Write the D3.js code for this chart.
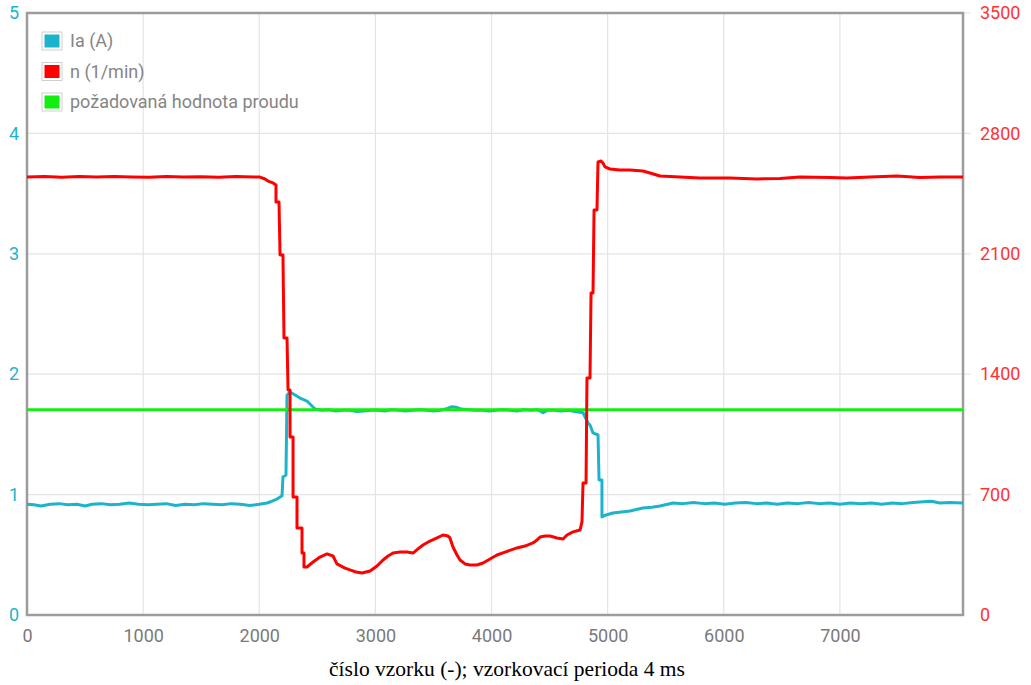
<!DOCTYPE html>
<html>
<head>
<meta charset="utf-8">
<script src="https://cdn.jsdelivr.net/npm/d3@7"></script>
<style>
  body { margin: 0; background: #fff; }
  text { font-family: Roboto, "Noto Sans", sans-serif; }
</style>
</head>
<body>
<div id="chart"></div>
<script>
// values: [sample, value]
var iaData = [[0,0.92],[60,0.915],[120,0.905],[200,0.92],[280,0.925],[350,0.915],[430,0.92],[500,0.905],[560,0.92],[640,0.925],
  [720,0.915],[800,0.92],[880,0.93],[960,0.92],[1040,0.915],[1120,0.92],[1200,0.925],[1280,0.91],[1360,0.92],[1440,0.915],
  [1520,0.925],[1600,0.92],[1680,0.915],[1760,0.925],[1840,0.92],[1920,0.91],[2000,0.92],[2067,0.93],[2110,0.945],[2153,0.963],
  [2196,0.99],[2204,1.146],[2230,1.163],[2239,1.827],[2265,1.852],[2308,1.827],[2351,1.802],[2411,1.777],[2454,1.736],[2480,1.711],
  [2540,1.70],[2600,1.705],[2660,1.695],[2720,1.70],[2780,1.70],[2840,1.69],[2900,1.695],[2960,1.70],[3020,1.70],[3080,1.695],
  [3140,1.705],[3200,1.70],[3260,1.695],[3320,1.70],[3380,1.705],[3440,1.70],[3500,1.695],[3560,1.70],[3620,1.715],[3660,1.73],
  [3700,1.725],[3740,1.71],[3800,1.705],[3860,1.70],[3920,1.70],[3980,1.695],[4040,1.70],[4100,1.705],[4160,1.70],[4220,1.695],
  [4280,1.705],[4340,1.70],[4400,1.705],[4443,1.68],[4480,1.70],[4540,1.70],[4600,1.695],[4660,1.70],[4720,1.69],[4788,1.68],
  [4805,1.645],[4831,1.595],[4848,1.578],[4874,1.512],[4917,1.495],[4926,1.121],[4951,1.121],[4951,0.814],[4986,0.831],[5046,0.847],
  [5120,0.855],[5192,0.864],[5304,0.889],[5380,0.895],[5451,0.905],[5563,0.93],[5650,0.925],[5740,0.935],[5830,0.925],[5920,0.93],
  [6010,0.92],[6100,0.93],[6190,0.935],[6280,0.925],[6370,0.93],[6460,0.92],[6550,0.93],[6640,0.925],[6730,0.935],[6820,0.925],
  [6910,0.93],[7000,0.92],[7090,0.93],[7180,0.925],[7270,0.93],[7360,0.92],[7450,0.93],[7540,0.925],[7630,0.935],[7720,0.94],
  [7790,0.945],[7860,0.93],[7950,0.935],[8060,0.93]];

var nData = [[0,2547],[150,2550],[300,2545],[450,2549],[600,2546],[750,2550],[900,2547],[1050,2545],[1200,2549],[1350,2546],
  [1500,2548],[1650,2545],[1800,2549],[1950,2547],[2006,2546],[2049,2535],[2075,2523],[2118,2512],[2144,2500],[2144,2401],
  [2170,2401],[2179,2093],[2204,2093],[2213,1610],[2239,1610],[2248,1308],[2265,1308],[2265,1035],[2291,1035],[2291,686],
  [2325,686],[2325,506],[2368,506],[2368,360],[2385,360],[2385,279],[2411,279],[2463,308],[2523,337],[2583,355],
  [2635,343],[2669,297],[2738,273],[2781,262],[2833,250],[2885,244],[2954,256],[3014,285],[3066,320],[3109,343],
  [3152,360],[3212,366],[3272,366],[3324,360],[3367,384],[3410,407],[3470,430],[3531,448],[3582,465],[3625,459],
  [3642,448],[3668,395],[3703,349],[3729,320],[3772,297],[3815,291],[3875,291],[3927,302],[3987,326],[4047,349],
  [4116,366],[4219,390],[4288,401],[4357,419],[4392,436],[4418,453],[4461,459],[4504,459],[4564,448],[4616,442],
  [4650,465],[4702,483],[4762,494],[4779,541],[4788,767],[4814,767],[4822,1378],[4848,1378],[4857,1872],[4874,1872],
  [4883,2355],[4908,2355],[4917,2634],[4943,2640],[4960,2628],[4977,2605],[5020,2593],[5106,2587],[5192,2587],[5304,2581],
  [5365,2570],[5451,2552],[5623,2547],[5795,2541],[6054,2541],[6286,2535],[6484,2538],[6656,2547],[6915,2544],[7061,2541],
  [7259,2547],[7492,2552],[7690,2544],[7862,2547],[8060,2547]];

var setpoint = 1.705;
var sampleRange = [0, 8060];

var xTicks = [0, 1000, 2000, 3000, 4000, 5000, 6000, 7000];
var leftTicks = [0, 1, 2, 3, 4, 5];
var rightTicks = [0, 700, 1400, 2100, 2800, 3500];

var legendNames = ["Ia (A)", "n (1/min)", "požadovaná hodnota proudu"];
var colors = ["#1db4cb", "#ff0000", "#12ee12"];

var xLabel = "číslo vzorku (-); vzorkovací perioda 4 ms";

var width = 1031, height = 685;
var plotL = 27, plotR = 963, plotT = 13, plotB = 615;

var svg = d3.select("#chart").append("svg")
  .attr("width", width)
  .attr("height", height);

var x = d3.scaleLinear().domain(sampleRange).range([plotL, plotR]);
var yL = d3.scaleLinear().domain([0, 5]).range([plotB, plotT]);
var yR = d3.scaleLinear().domain([0, 3500]).range([plotB, plotT]);

// grid
svg.append("g")
  .selectAll("line")
  .data(xTicks.slice(1))
  .enter().append("line")
  .attr("x1", d => x(d)).attr("x2", d => x(d))
  .attr("y1", plotT).attr("y2", plotB)
  .attr("stroke", "#e4e4e4").attr("stroke-width", 1.2);

svg.append("g")
  .selectAll("line")
  .data(leftTicks.slice(1))
  .enter().append("line")
  .attr("x1", plotL).attr("x2", plotR + 8)
  .attr("y1", d => yL(d)).attr("y2", d => yL(d))
  .attr("stroke", "#e4e4e4").attr("stroke-width", 1.2);

// axes (labels only, chart.js look)
var xAxis = svg.append("g")
  .attr("transform", "translate(0," + plotB + ")")
  .call(d3.axisBottom(x).tickValues(xTicks).tickSize(0).tickPadding(14).tickFormat(d3.format("d")));
xAxis.select(".domain").remove();
xAxis.selectAll("text").attr("fill", "#7a7a7a").style("font-size", "18px");

var lAxis = svg.append("g")
  .attr("transform", "translate(" + plotL + ",0)")
  .call(d3.axisLeft(yL).tickValues(leftTicks).tickSize(0).tickPadding(8).tickFormat(d3.format("d")));
lAxis.select(".domain").remove();
lAxis.selectAll("text").attr("fill", "#1db4cb").style("font-size", "18px");

var rAxis = svg.append("g")
  .attr("transform", "translate(" + plotR + ",0)")
  .call(d3.axisRight(yR).tickValues(rightTicks).tickSize(0).tickPadding(17).tickFormat(d3.format("d")));
rAxis.select(".domain").remove();
rAxis.selectAll("text").attr("fill", "#ff3333").style("font-size", "18px");

// frame
svg.append("rect")
  .attr("x", plotL).attr("y", plotT)
  .attr("width", plotR - plotL).attr("height", plotB - plotT)
  .attr("fill", "none")
  .attr("stroke", "#9c9c9c").attr("stroke-width", 2.5);

// series
var lineIa = d3.line().x(d => x(d[0])).y(d => yL(d[1]));
var lineN = d3.line().x(d => x(d[0])).y(d => yR(d[1]));

svg.append("path")
  .datum(iaData)
  .attr("fill", "none")
  .attr("stroke", colors[0])
  .attr("stroke-width", 3)
  .attr("stroke-linejoin", "round")
  .attr("d", lineIa);

svg.append("path")
  .datum(sampleRange.map(s => [s, setpoint]))
  .attr("fill", "none")
  .attr("stroke", colors[2])
  .attr("stroke-width", 3)
  .attr("d", lineIa);

svg.append("path")
  .datum(nData)
  .attr("fill", "none")
  .attr("stroke", colors[1])
  .attr("stroke-width", 3)
  .attr("stroke-linejoin", "round")
  .attr("d", lineN);

// legend
var legend = svg.append("g")
  .selectAll("g")
  .data(legendNames)
  .enter().append("g")
  .attr("transform", (d, i) => "translate(42," + (32 + i * 30.5) + ")");

legend.append("rect")
  .attr("width", 20).attr("height", 18)
  .attr("fill", "#fff")
  .attr("stroke", "#d0d0d0");

legend.append("rect")
  .attr("x", 2.5).attr("y", 2.5)
  .attr("width", 15).attr("height", 13)
  .attr("fill", (d, i) => colors[i]);

legend.append("text")
  .attr("x", 28).attr("y", 9)
  .attr("dy", "0.35em")
  .attr("fill", "#858585")
  .style("font-size", "18px")
  .text(d => d);

// x axis title
svg.append("text")
  .attr("x", 507).attr("y", 676)
  .attr("text-anchor", "middle")
  .attr("fill", "#000")
  .style("font-family", "'Liberation Serif', 'DejaVu Serif', serif")
  .style("font-size", "21.5px")
  .text(xLabel);
</script>
</body>
</html>
